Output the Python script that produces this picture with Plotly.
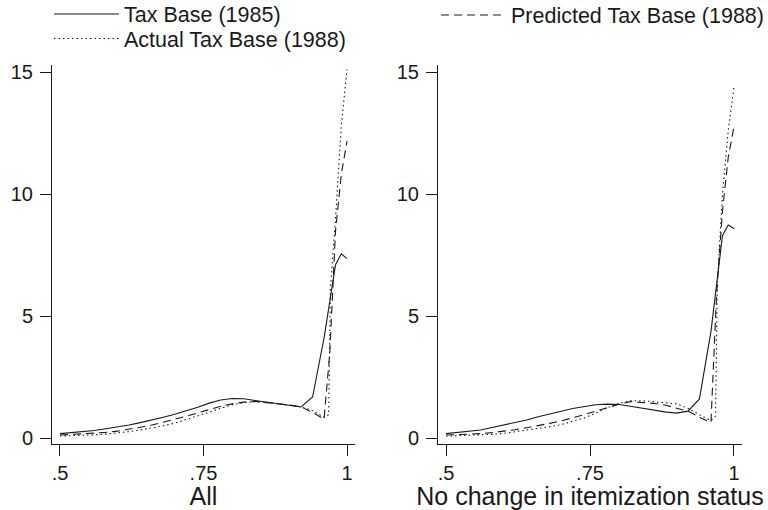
import plotly.graph_objects as go

# ---------------- data ----------------
x_base = [0.50, 0.52, 0.54, 0.56, 0.58, 0.60, 0.62, 0.64, 0.66, 0.68, 0.70, 0.72,
          0.74, 0.76, 0.78, 0.80, 0.82, 0.84, 0.86, 0.88, 0.90, 0.92, 0.94, 0.96,
          0.98, 0.99, 1.00]
x_pred = [0.50, 0.52, 0.54, 0.56, 0.58, 0.60, 0.62, 0.64, 0.66, 0.68, 0.70, 0.72,
          0.74, 0.76, 0.78, 0.80, 0.82, 0.84, 0.86, 0.88, 0.90, 0.92, 0.94, 0.96,
          0.97, 0.98, 0.99, 1.00]
x_act = [0.50, 0.52, 0.54, 0.56, 0.58, 0.60, 0.62, 0.64, 0.66, 0.68, 0.70, 0.72,
         0.74, 0.76, 0.78, 0.80, 0.82, 0.84, 0.86, 0.88, 0.90, 0.92, 0.94, 0.96,
         0.968, 0.971, 0.98, 0.99, 1.00]

# Panel "All"
all_base = [0.18, 0.22, 0.26, 0.31, 0.38, 0.45, 0.53, 0.63, 0.73, 0.85, 0.97, 1.11,
            1.26, 1.43, 1.56, 1.62, 1.61, 1.54, 1.47, 1.39, 1.31, 1.27, 1.68, 4.10,
            7.10, 7.55, 7.35]
all_pred = [0.12, 0.14, 0.16, 0.19, 0.23, 0.28, 0.35, 0.44, 0.53, 0.64, 0.76, 0.89,
            1.03, 1.17, 1.30, 1.40, 1.47, 1.50, 1.46, 1.41, 1.35, 1.28, 1.05, 0.77,
            3.50, 8.50, 10.80, 12.17]
all_act = [0.08, 0.09, 0.11, 0.13, 0.16, 0.20, 0.26, 0.33, 0.41, 0.50, 0.61, 0.75,
           0.90, 1.06, 1.22, 1.36, 1.45, 1.49, 1.46, 1.41, 1.36, 1.28, 1.12, 0.85,
           0.95, 6.10, 9.00, 12.80, 15.10]

# Panel "No change in itemization status"
nc_base = [0.18, 0.22, 0.27, 0.33, 0.43, 0.53, 0.63, 0.74, 0.87, 1.00, 1.10, 1.21,
           1.30, 1.36, 1.39, 1.37, 1.30, 1.22, 1.14, 1.07, 1.02, 1.10, 1.60, 4.36,
           8.30, 8.73, 8.59]
nc_pred = [0.12, 0.13, 0.15, 0.18, 0.22, 0.27, 0.34, 0.42, 0.50, 0.60, 0.70, 0.82,
           0.96, 1.10, 1.25, 1.38, 1.49, 1.47, 1.42, 1.35, 1.24, 1.10, 0.85, 0.64,
           6.00, 9.30, 11.50, 12.76]
nc_act = [0.08, 0.09, 0.10, 0.12, 0.15, 0.19, 0.25, 0.31, 0.38, 0.46, 0.55, 0.67,
          0.82, 1.02, 1.24, 1.42, 1.52, 1.53, 1.48, 1.42, 1.40, 1.22, 0.95, 0.72,
          0.90, 6.30, 10.00, 12.60, 14.40]

panel_titles = ["All", "No change in itemization status"]
series_names = ["Tax Base (1985)", "Predicted Tax Base (1988)", "Actual Tax Base (1988)"]
x_tickvals = [0.5, 0.75, 1.0]
x_ticktext = [".5", ".75", "1"]
y_tickvals = [0, 5, 10, 15]
y_ticktext = ["0", "5", "10", "15"]

# ---------------- figure ----------------
W, H = 768, 510
INK = "#1a1a1a"
FONT = "Liberation Sans, Arial, sans-serif"

dashes = ["solid", "8px,5px", "1.5px,3px"]
legends = ["legend", "legend2", "legend3"]

fig = go.Figure()
panels = [
    (x_base, all_base, x_pred, all_pred, x_act, all_act, "x", "y"),
    (x_base, nc_base, x_pred, nc_pred, x_act, nc_act, "x2", "y2"),
]
for p, (xb, yb, xp, yp, xa, ya, xa_id, ya_id) in enumerate(panels):
    for k, (xx, yy) in enumerate([(xb, yb), (xp, yp), (xa, ya)]):
        fig.add_trace(go.Scatter(
            x=xx, y=yy, mode="lines", name=series_names[k],
            line=dict(color=INK, width=1.1, dash=dashes[k]),
            xaxis=xa_id, yaxis=ya_id,
            showlegend=(p == 0), legend=legends[k],
        ))

def px_x(v):
    return v / W

def px_y(v):
    return 1 - v / H

xr = [0.4861, 1.0139]
yr = [-0.246, 15.3]
axis_common = dict(showline=True, linecolor=INK, linewidth=1, showgrid=False,
                   zeroline=False, ticks="outside", ticklen=11, tickwidth=1,
                   automargin=False,
                   tickcolor=INK, tickfont=dict(size=20, color=INK, family=FONT))

fig.update_layout(
    width=W, height=H,
    margin=dict(l=0, r=0, t=0, b=0, autoexpand=False),
    paper_bgcolor="white", plot_bgcolor="white",
    font=dict(family=FONT, color=INK),
    xaxis=dict(domain=[px_x(52), px_x(355)], range=xr, anchor="y",
               tickvals=x_tickvals, ticktext=x_ticktext,
               title=dict(text=panel_titles[0], font=dict(size=25, color=INK), standoff=1),
               **axis_common),
    yaxis=dict(domain=[px_y(444), px_y(64.7)], range=yr, anchor="x",
               tickvals=y_tickvals, ticktext=y_ticktext, ticklabelstandoff=3,
               **axis_common),
    xaxis2=dict(domain=[px_x(438), px_x(742)], range=xr, anchor="y2",
                tickvals=x_tickvals, ticktext=x_ticktext,
                title=dict(text=panel_titles[1], font=dict(size=25, color=INK), standoff=1),
                **axis_common),
    yaxis2=dict(domain=[px_y(444), px_y(64.7)], range=yr, anchor="x2",
                tickvals=y_tickvals, ticktext=y_ticktext, ticklabelstandoff=3,
                **axis_common),
)

leg_common = dict(orientation="v", xanchor="left", yanchor="top",
                  bgcolor="rgba(0,0,0,0)", borderwidth=0, itemwidth=65,
                  font=dict(size=21.5, color=INK, family=FONT))
fig.update_layout(
    legend=dict(x=px_x(49), y=px_y(-6.5), **leg_common),
    legend2=dict(x=px_x(436), y=px_y(-5.5), **leg_common),
    legend3=dict(x=px_x(49), y=px_y(18), **leg_common),
)

fig.write_html("out.html", config={"displayModeBar": False},
               post_script="document.body.style.margin='0';document.body.style.padding='0';")
